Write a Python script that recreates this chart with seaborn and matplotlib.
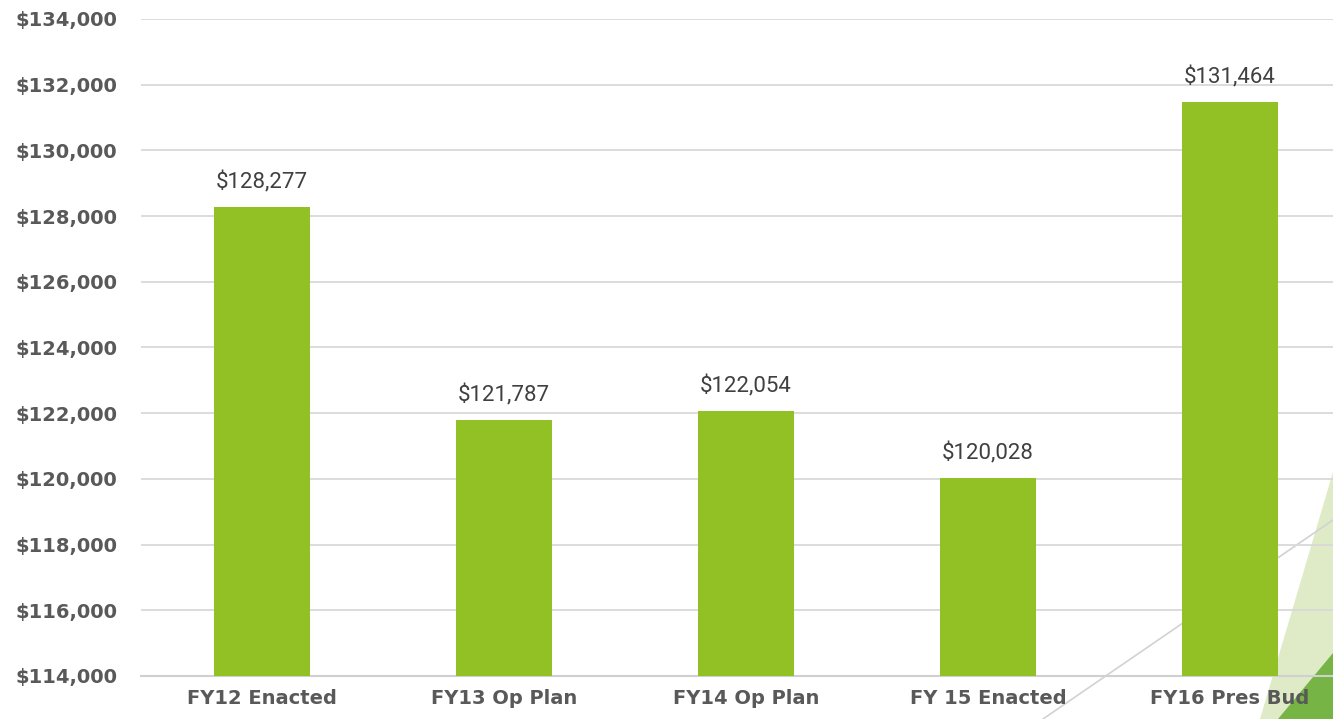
import numpy as np
import pandas as pd
import seaborn as sns
import matplotlib.pyplot as plt
from matplotlib.patches import Polygon
from matplotlib.lines import Line2D
from matplotlib.ticker import FuncFormatter

# chart values
categories = ['FY12 Enacted', 'FY13 Op Plan', 'FY14 Op Plan', 'FY 15 Enacted', 'FY16 Pres Bud']
budget = [128277, 121787, 122054, 120028, 131464]
yticks = list(range(114000, 134001, 2000))

df = pd.DataFrame({'cat': categories, 'val': budget})

sns.set_theme(style='white')
plt.rcParams['font.family'] = ['DejaVu Sans']

W, H = 1333, 719
fig = plt.figure(figsize=(W / 100, H / 100), dpi=100)
fig.patch.set_facecolor('white')

# decorative theme shapes in the lower right corner (figure pixel coords)
def fpts(pts):
    return [(x / W, 1 - y / H) for x, y in pts]

fig.patches.append(Polygon(fpts([(1333, 472), (1260, 719), (1333, 719)]),
                           closed=True, transform=fig.transFigure,
                           facecolor='#dfebc7', edgecolor='none', zorder=-2))
fig.patches.append(Polygon(fpts([(1333, 653), (1278, 719), (1333, 719)]),
                           closed=True, transform=fig.transFigure,
                           facecolor='#76b446', edgecolor='none', zorder=-1))
fig.lines.append(Line2D([1043 / W, 1333 / W], [1 - 719 / H, 1 - 520 / H],
                        transform=fig.transFigure, color='#d2d2d2',
                        linewidth=1.2, zorder=-1))

ax = fig.add_axes([141 / W, 43 / H, 1192 / W, 657 / H])
ax.set_facecolor('none')

sns.barplot(data=df, x='cat', y='val', color='#92c125', width=0.4,
            saturation=1, linewidth=0, ax=ax, zorder=3)

ax.set_ylim(114000, 134000)
ax.set_xlim(-0.5, 4.426)
ax.set_yticks(yticks)
ax.yaxis.set_major_formatter(FuncFormatter(lambda v, p: f'${v:,.0f}'))
ax.grid(axis='y', color='#d9d9d9', linewidth=1.3, zorder=0)
ax.set_axisbelow(True)
for s in ['top', 'right', 'left']:
    ax.spines[s].set_visible(False)
ax.spines['bottom'].set_color('#d0d0d0')
ax.spines['bottom'].set_linewidth(1.5)
ax.tick_params(axis='y', length=0, pad=17, labelsize=14, labelcolor='#595959')
ax.tick_params(axis='x', length=0, pad=9, labelsize=14, labelcolor='#595959')
for lab in ax.get_xticklabels() + ax.get_yticklabels():
    lab.set_fontweight('bold')
ax.set_xlabel('')
ax.set_ylabel('')

for i, v in enumerate(budget):
    ax.annotate(f'${v:,}', (i, v), xytext=(0, 10), textcoords='offset points',
                ha='center', va='bottom', fontsize=16, color='#404040',
                family='Roboto')

fig.savefig('out.png', dpi=100)
